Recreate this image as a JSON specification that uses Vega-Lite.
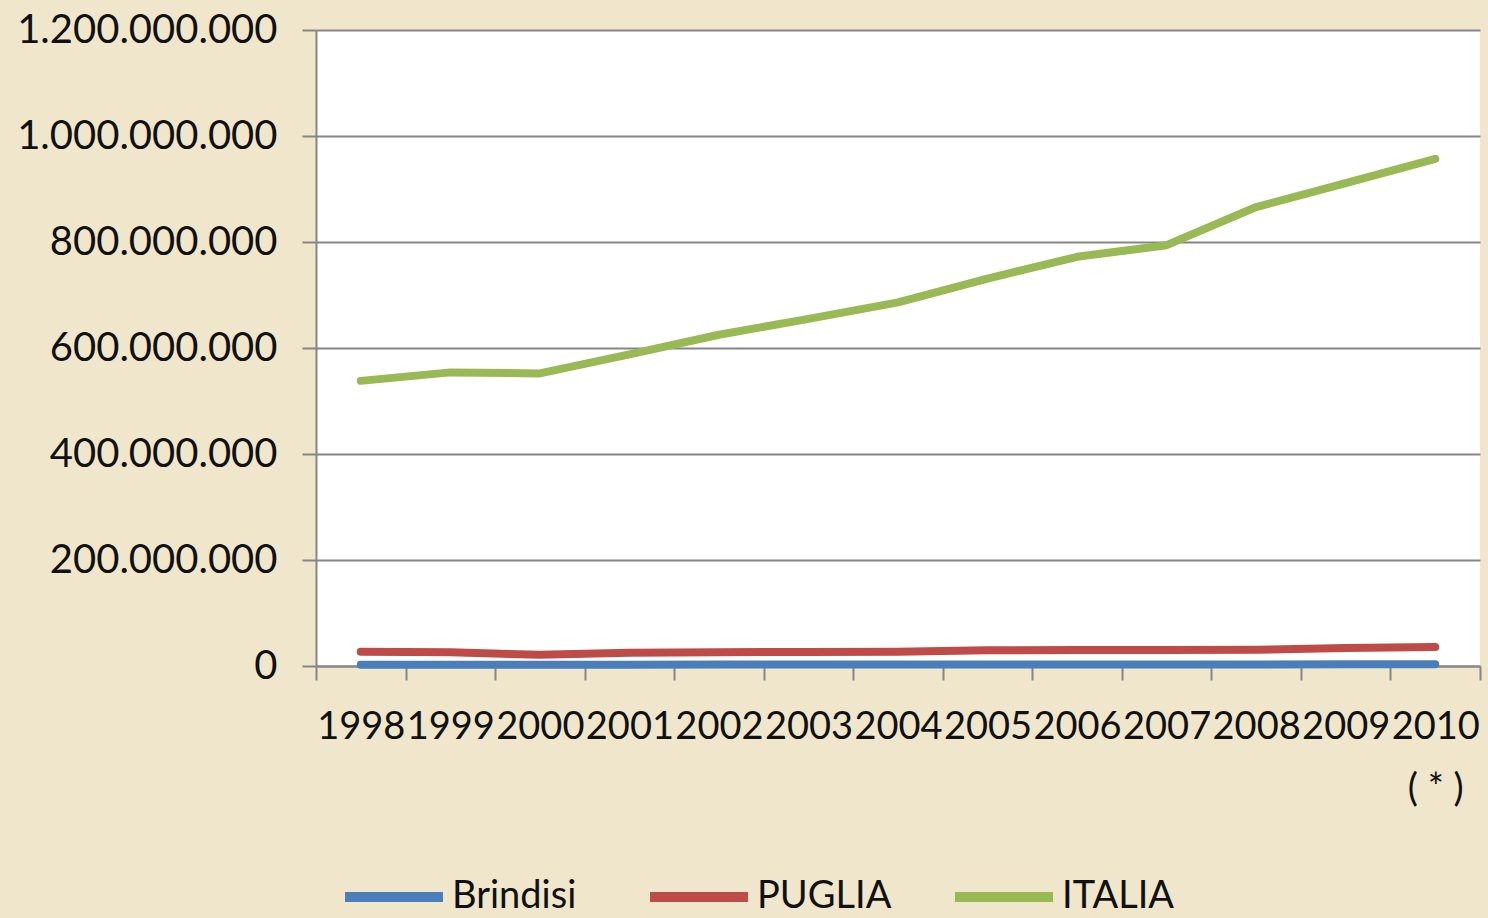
{
  "$schema": "https://vega.github.io/schema/vega-lite/v6.json",
  "width": 1164,
  "height": 636,
  "autosize": {"type": "none"},
  "padding": {"left": 316, "top": 30, "right": 8, "bottom": 252},
  "background": "#efe6cc",
  "config": {
    "view": {"fill": "#ffffff", "stroke": null},
    "font": "Lato"
  },
  "data": {
    "values": [
      {"anno": "1998", "area": "Brindisi", "valore": 2500000},
      {"anno": "1999", "area": "Brindisi", "valore": 2500000},
      {"anno": "2000", "area": "Brindisi", "valore": 2300000},
      {"anno": "2001", "area": "Brindisi", "valore": 2500000},
      {"anno": "2002", "area": "Brindisi", "valore": 2600000},
      {"anno": "2003", "area": "Brindisi", "valore": 2600000},
      {"anno": "2004", "area": "Brindisi", "valore": 2700000},
      {"anno": "2005", "area": "Brindisi", "valore": 2800000},
      {"anno": "2006", "area": "Brindisi", "valore": 2900000},
      {"anno": "2007", "area": "Brindisi", "valore": 2900000},
      {"anno": "2008", "area": "Brindisi", "valore": 3000000},
      {"anno": "2009", "area": "Brindisi", "valore": 3100000},
      {"anno": "2010", "area": "Brindisi", "valore": 3200000},
      {"anno": "1998", "area": "PUGLIA", "valore": 27000000},
      {"anno": "1999", "area": "PUGLIA", "valore": 26000000},
      {"anno": "2000", "area": "PUGLIA", "valore": 21000000},
      {"anno": "2001", "area": "PUGLIA", "valore": 25000000},
      {"anno": "2002", "area": "PUGLIA", "valore": 26000000},
      {"anno": "2003", "area": "PUGLIA", "valore": 26500000},
      {"anno": "2004", "area": "PUGLIA", "valore": 27000000},
      {"anno": "2005", "area": "PUGLIA", "valore": 29500000},
      {"anno": "2006", "area": "PUGLIA", "valore": 30000000},
      {"anno": "2007", "area": "PUGLIA", "valore": 30000000},
      {"anno": "2008", "area": "PUGLIA", "valore": 30500000},
      {"anno": "2009", "area": "PUGLIA", "valore": 34000000},
      {"anno": "2010", "area": "PUGLIA", "valore": 36000000},
      {"anno": "1998", "area": "ITALIA", "valore": 538000000},
      {"anno": "1999", "area": "ITALIA", "valore": 554000000},
      {"anno": "2000", "area": "ITALIA", "valore": 552000000},
      {"anno": "2001", "area": "ITALIA", "valore": 588000000},
      {"anno": "2002", "area": "ITALIA", "valore": 625000000},
      {"anno": "2003", "area": "ITALIA", "valore": 655000000},
      {"anno": "2004", "area": "ITALIA", "valore": 686000000},
      {"anno": "2005", "area": "ITALIA", "valore": 731000000},
      {"anno": "2006", "area": "ITALIA", "valore": 772000000},
      {"anno": "2007", "area": "ITALIA", "valore": 794000000},
      {"anno": "2008", "area": "ITALIA", "valore": 866000000},
      {"anno": "2009", "area": "ITALIA", "valore": 911000000},
      {"anno": "2010", "area": "ITALIA", "valore": 957000000}
    ]
  },
  "mark": {"type": "line", "strokeWidth": 8, "strokeCap": "round", "strokeJoin": "round"},
  "encoding": {
    "x": {
      "field": "anno",
      "type": "ordinal",
      "scale": {"paddingInner": 0, "paddingOuter": 0},
      "axis": {
        "title": null,
        "labelAngle": 0,
        "labelFont": "Lato",
        "labelFontSize": 38,
        "labelColor": "#111111",
        "labelPadding": 28,
        "labelLineHeight": 62,
        "labelExpr": "datum.value == '2010' ? ['2010', '( * )'] : datum.value",
        "tickBand": "extent",
        "tickSize": 14,
        "tickColor": "#868686",
        "tickWidth": 2,
        "domainColor": "#868686",
        "domainWidth": 2,
        "grid": false
      }
    },
    "y": {
      "field": "valore",
      "type": "quantitative",
      "scale": {"domain": [0, 1200000000], "nice": false},
      "axis": {
        "title": null,
        "values": [0, 200000000, 400000000, 600000000, 800000000, 1000000000, 1200000000],
        "labelExpr": "replace(format(datum.value, ',d'), regexp(',', 'g'), '.')",
        "labelLimit": 400,
        "labelFont": "Lato",
        "labelFontSize": 40,
        "labelColor": "#111111",
        "labelPadding": 25,
        "tickSize": 14,
        "tickColor": "#868686",
        "tickWidth": 2,
        "domainColor": "#868686",
        "domainWidth": 2,
        "grid": true,
        "gridColor": "#868686",
        "gridWidth": 2
      }
    },
    "color": {
      "field": "area",
      "type": "nominal",
      "scale": {"domain": ["Brindisi", "PUGLIA", "ITALIA"], "range": ["#4a7ebb", "#be4b48", "#98b954"]},
      "legend": {
        "title": null,
        "orient": "none",
        "direction": "horizontal",
        "legendX": 24,
        "legendY": 813,
        "gridAlign": "all",
        "symbolType": "stroke",
        "symbolSize": 9600,
        "symbolStrokeWidth": 10,
        "labelFont": "Lato",
        "labelFontSize": 38,
        "labelColor": "#111111",
        "labelOffset": 4,
        "columnPadding": 43
      }
    }
  }
}
